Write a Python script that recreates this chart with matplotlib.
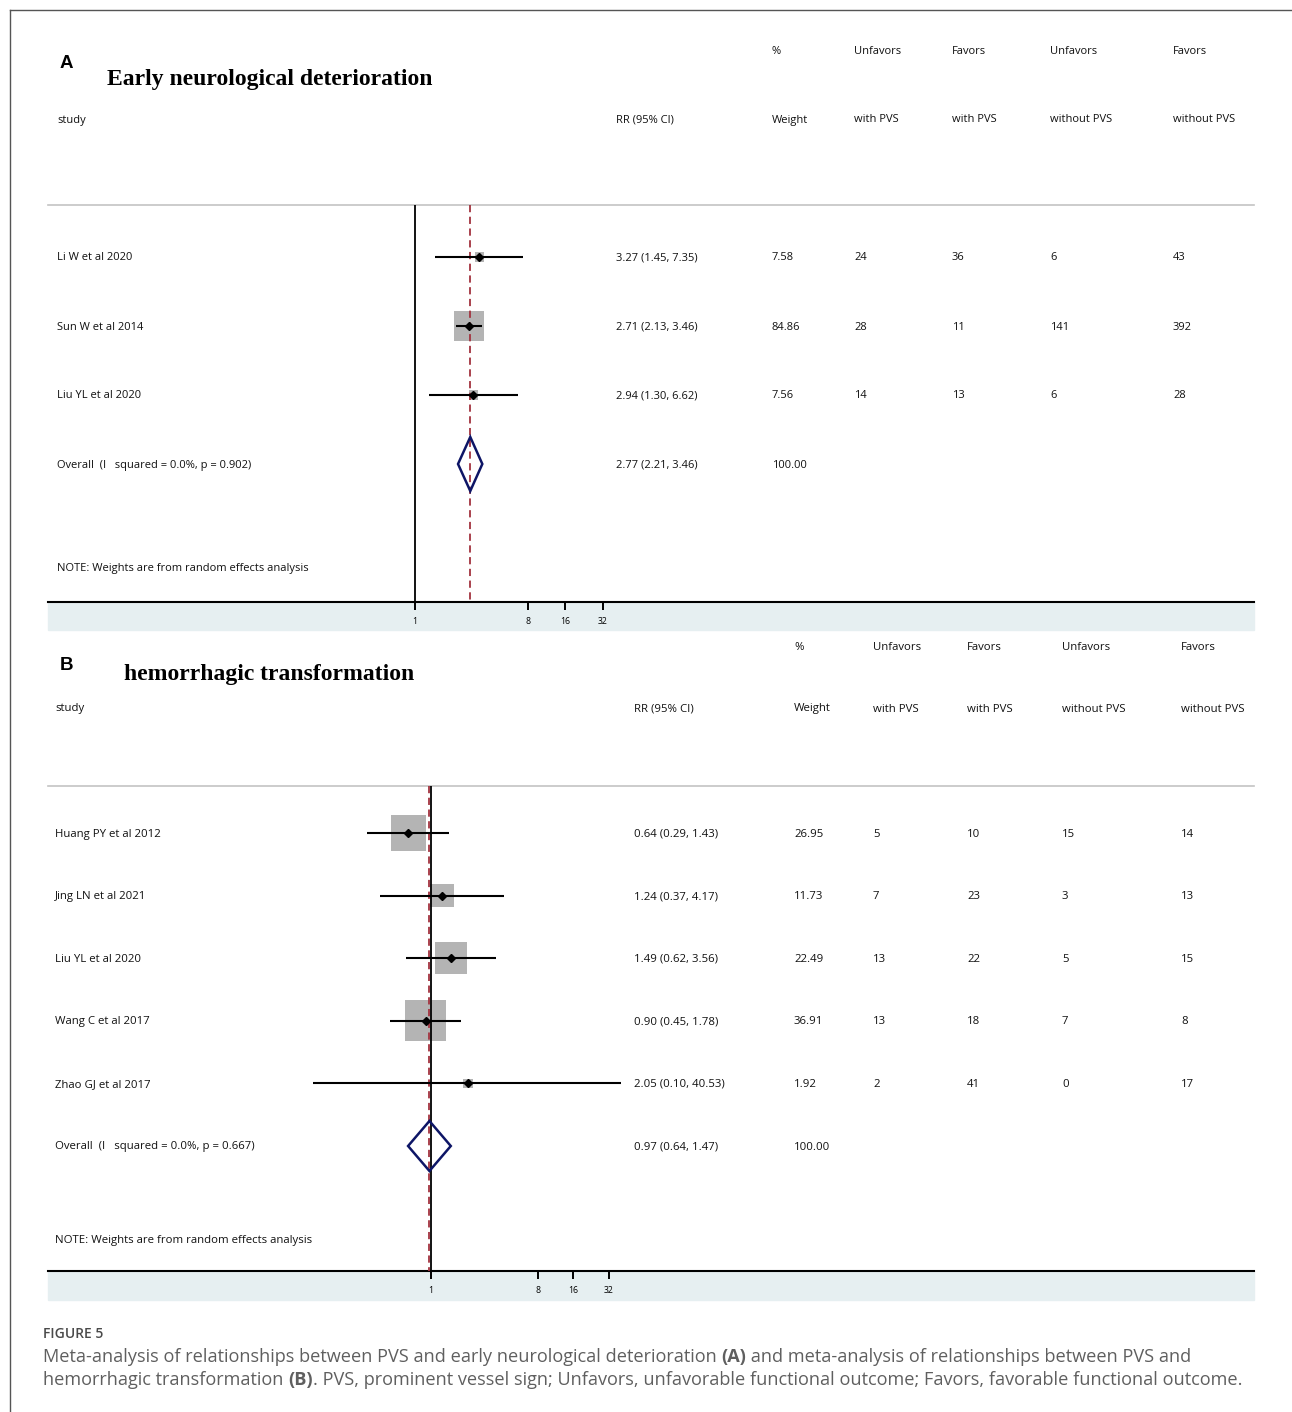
import matplotlib
matplotlib.use("Agg")
import matplotlib.pyplot as plt
import numpy as np
from matplotlib.lines import Line2D
from matplotlib.patches import Rectangle

W, H, DPI = 1292, 1412, 100

# ---------------- data: early neurological deterioration ----------------
a_studies = ["Li W et al 2020", "Sun W et al 2014", "Liu YL et al 2020"]
a_rr = [3.27, 2.71, 2.94]
a_lo = [1.45, 2.13, 1.30]
a_hi = [7.35, 3.46, 6.62]
a_weight = [7.58, 84.86, 7.56]
a_unfav_pvs = [24, 28, 14]
a_fav_pvs = [36, 11, 13]
a_unfav_nopvs = [6, 141, 6]
a_fav_nopvs = [43, 392, 28]
a_overall = [2.77, 2.21, 3.46]
a_overall_label = "Overall  (I   squared = 0.0%, p = 0.902)"

# ---------------- data: hemorrhagic transformation ----------------
b_studies = ["Huang PY et al 2012", "Jing LN et al 2021", "Liu YL et al 2020",
             "Wang C et al 2017", "Zhao GJ et al 2017"]
b_rr = [0.64, 1.24, 1.49, 0.90, 2.05]
b_lo = [0.29, 0.37, 0.62, 0.45, 0.10]
b_hi = [1.43, 4.17, 3.56, 1.78, 40.53]
b_weight = [26.95, 11.73, 22.49, 36.91, 1.92]
b_unfav_pvs = [5, 7, 13, 13, 2]
b_fav_pvs = [10, 23, 22, 18, 41]
b_unfav_nopvs = [15, 3, 5, 7, 0]
b_fav_nopvs = [14, 13, 15, 8, 17]
b_overall = [0.97, 0.64, 1.47]
b_overall_label = "Overall  (I   squared = 0.0%, p = 0.667)"

tick_values = [1, 8, 16, 32]
header_top = ["%", "Unfavors", "Favors", "Unfavors", "Favors"]
header_bottom = ["study", "RR (95% CI)", "Weight", "with PVS", "with PVS",
                 "without PVS", "without PVS"]
note_text = "NOTE: Weights are from random effects analysis"

SMALL_FONT = "Open Sans"
BOX_COLOR = "#b4b4b4"
DIAMOND_COLOR = "#0d1566"
NULL_DASH = "#a3333f"
BAND_COLOR = "#e6eff1"

fig = plt.figure(figsize=(W / DPI, H / DPI), dpi=DPI)


def fx(x):
    return x / W


def fy(y):
    return 1 - y / H


def ftext(x, y, s, **kw):
    kw.setdefault("va", "center")
    kw.setdefault("ha", "left")
    return fig.text(fx(x), fy(y), s, **kw)


def panel(letter, title, title_x, title_y, studies, rr, lo, hi, weight,
          unfav_pvs, fav_pvs, unfav_nopvs, fav_nopvs, overall, overall_label,
          lay):
    left, right = 48, 1254
    top, axis_y = lay["top"], lay["axis_y"]
    ax = fig.add_axes([fx(left), fy(axis_y), (right - left) / W,
                       (axis_y - top) / H])
    ax.set_xscale("log", base=2)
    lo_exp = -(lay["one_px"] - left) / lay["dbl_px"]
    hi_exp = (right - lay["one_px"]) / lay["dbl_px"]
    ax.set_xlim(2 ** lo_exp, 2 ** hi_exp)
    ax.set_ylim(axis_y, top)
    for s in ["top", "left", "right"]:
        ax.spines[s].set_visible(False)
    ax.spines["bottom"].set_linewidth(1.5)
    ax.set_yticks([])
    ax.set_xticks(tick_values)
    ax.set_xticklabels([str(t) for t in tick_values], fontfamily=SMALL_FONT,
                       fontsize=6.3)
    ax.xaxis.set_minor_locator(matplotlib.ticker.NullLocator())
    ax.tick_params(axis="x", length=6, width=1.4, pad=4.5, direction="out")
    ax.patch.set_alpha(0)

    # band under axis
    fig.patches.append(Rectangle((fx(left), fy(lay["band_bottom"])),
                                 (right - left) / W,
                                 (lay["band_bottom"] - axis_y) / H,
                                 transform=fig.transFigure, color=BAND_COLOR,
                                 zorder=-5))

    # header separator
    ax.plot([0, 1], [lay["sep_y"]] * 2, color="#c4c4c4", lw=1.2,
            transform=ax.get_yaxis_transform(), clip_on=False)

    # null line and overall line
    ax.vlines(1, lay["sep_y"], axis_y, color="black", lw=1.3, zorder=2)
    ax.vlines(overall[0], lay["sep_y"], axis_y, color=NULL_DASH, lw=1.3,
              linestyles=(0, (4, 2.5)), zorder=3)

    n = len(studies)
    rows = [lay["row0"] + i * lay["step"] for i in range(n + 1)]

    # study boxes, CIs and point estimates
    sides = [lay["box_k"] * np.sqrt(w) * 0.72 for w in weight]
    ax.scatter(rr, rows[:n], s=[s ** 2 for s in sides], marker="s",
               color=BOX_COLOR, linewidths=0, zorder=1)
    ax.hlines(rows[:n], lo, hi, color="black", lw=1.5, zorder=4)
    ax.plot(rr, rows[:n], "D", color="black", markersize=4.2, zorder=5)

    # overall diamond
    yc = rows[n]
    hh = lay["diamond_hh"]
    ax.fill([overall[1], overall[0], overall[2], overall[0]],
            [yc, yc - hh, yc, yc + hh], facecolor="none",
            edgecolor=DIAMOND_COLOR, lw=1.8, zorder=6, closed=True)

    fs = lay["fs"]
    tk = dict(fontfamily=SMALL_FONT, fontsize=fs, color="#111111")
    cx = lay["cols"]
    dy = 1  # small downward nudge of table text
    # headers
    for s, x in zip(header_top, cx[2:]):
        ftext(x, lay["h1"] + dy, s, **tk)
    for s, x in zip(header_bottom, cx):
        ftext(x, lay["h2"] + dy, s, **tk)
    # rows
    for i in range(n):
        y = rows[i] + dy
        ftext(cx[0], y, studies[i], **tk)
        ftext(cx[1], y, f"{rr[i]:.2f} ({lo[i]:.2f}, {hi[i]:.2f})", **tk)
        ftext(cx[2], y, f"{weight[i]:.2f}", **tk)
        ftext(cx[3], y, str(unfav_pvs[i]), **tk)
        ftext(cx[4], y, str(fav_pvs[i]), **tk)
        ftext(cx[5], y, str(unfav_nopvs[i]), **tk)
        ftext(cx[6], y, str(fav_nopvs[i]), **tk)
    ftext(cx[0], yc + dy, overall_label, **tk)
    ftext(cx[1], yc + dy,
          f"{overall[0]:.2f} ({overall[1]:.2f}, {overall[2]:.2f})", **tk)
    ftext(cx[2], yc + dy, "100.00", **tk)
    ftext(cx[0], lay["note_y"] + dy, note_text, **tk)

    # panel letter and title
    ftext(60, lay["letter_y"], letter, fontfamily="Liberation Sans",
          fontweight="bold", fontsize=13.5, color="black")
    ftext(title_x, title_y, title, fontfamily="Liberation Serif",
          fontweight="bold", fontsize=17, color="black")
    return ax


lay_a = dict(top=30, axis_y=602, band_bottom=630, one_px=415, dbl_px=37.6,
             sep_y=205, row0=257, step=69, note_y=568, h1=50, h2=119,
             cols=[57, 616, 772, 854, 952, 1050, 1173], box_k=3.3,
             diamond_hh=27, fs=8.05, letter_y=64)
lay_b = dict(top=640, axis_y=1271, band_bottom=1300, one_px=431, dbl_px=35.6,
             sep_y=786, row0=833, step=62.6, note_y=1240, h1=646, h2=708,
             cols=[55, 634, 794, 873, 967, 1062, 1181], box_k=6.75,
             diamond_hh=25, fs=8.17, letter_y=666)

panel("A", "Early neurological deterioration", 107, 79, a_studies, a_rr,
      a_lo, a_hi, a_weight, a_unfav_pvs, a_fav_pvs, a_unfav_nopvs,
      a_fav_nopvs, a_overall, a_overall_label, lay_a)
panel("B", "hemorrhagic transformation", 124, 674, b_studies, b_rr, b_lo,
      b_hi, b_weight, b_unfav_pvs, b_fav_pvs, b_unfav_nopvs, b_fav_nopvs,
      b_overall, b_overall_label, lay_b)

# outer frame (top and left edges)
fig.lines.append(Line2D([fx(10), 1], [fy(10), fy(10)], color="#555555",
                        lw=1.0, transform=fig.transFigure))
fig.lines.append(Line2D([fx(10), fx(10)], [fy(10), 0], color="#555555",
                        lw=1.0, transform=fig.transFigure))

# caption
CAP_FONT = "Open Sans"
CAP_COLOR = "#5f5f5f"
ftext(43, 1334, "FIGURE 5", fontfamily=CAP_FONT, fontweight="semibold",
      fontsize=10, color="#4a4a4a")

renderer = fig.canvas.get_renderer()


def rich_line(x, y, parts, size):
    for s, bold in parts:
        t = ftext(x, y, s, fontfamily=CAP_FONT, fontsize=size,
                  fontweight="bold" if bold else "normal", color=CAP_COLOR)
        bb = t.get_window_extent(renderer)
        x = bb.x1


cap_size = 13.1
rich_line(43, 1357, [("Meta-analysis of relationships between PVS and early "
                      "neurological deterioration ", False), ("(A)", True),
                     (" and meta-analysis of relationships between PVS and",
                      False)], cap_size)
rich_line(43, 1380, [("hemorrhagic transformation ", False), ("(B)", True),
                     (". PVS, prominent vessel sign; Unfavors, unfavorable "
                      "functional outcome; Favors, favorable functional "
                      "outcome.", False)], cap_size)

fig.savefig("out.png", dpi=DPI)
